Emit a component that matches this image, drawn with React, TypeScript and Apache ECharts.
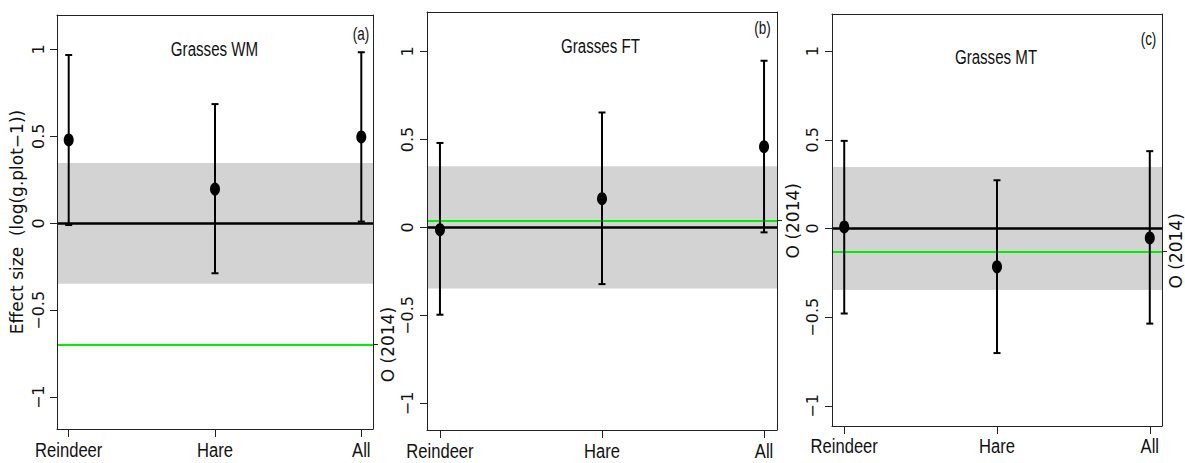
import React, { useEffect, useRef } from 'react';
import * as echarts from 'echarts';

// ---------- data ----------
const categories = ['Reindeer', 'Hare', 'All'];
const xPositions = [1, 2, 3];
const yTicks = [-1, -0.5, 0, 0.5, 1];
const panelTitles = ['Grasses WM', 'Grasses FT', 'Grasses MT'];
const panelLetters = ['(a)', '(b)', '(c)'];
const yAxisTitle = 'Effect size  (log(g.plot\u22121))';
const referenceLabel = 'O (2014)';

const estimateWM = [0.479, 0.197, 0.496];
const lowerWM = [-0.01, -0.287, 0.01];
const upperWM = [0.967, 0.685, 0.983];

const estimateFT = [-0.013, 0.163, 0.459];
const lowerFT = [-0.496, -0.322, -0.028];
const upperFT = [0.48, 0.653, 0.947];

const estimateMT = [0.009, -0.216, -0.053];
const lowerMT = [-0.479, -0.702, -0.536];
const upperMT = [0.494, 0.272, 0.436];

const referenceLevels = [-0.697, 0.038, -0.126];
const bandLimits = [-0.347, 0.347];

// ---------- layout ----------
const grids = [
  { left: 57, top: 15, width: 316, height: 414 },
  { left: 427, top: 12, width: 350, height: 418 },
  { left: 832, top: 14, width: 330, height: 412 },
];
const yRanges = [
  [-1.182, 1.197],
  [-1.151, 1.224],
  [-1.113, 1.209],
];
const xRange = [0.92, 3.08];
const titlePos = [
  [214.5, 49],
  [600.5, 46],
  [996, 57],
];
const letterPos = [
  [361, 33.5],
  [762.5, 27.5],
  [1148.5, 38.5],
];
const xLabelOffset = [21, 20.5, 20];
const leftLabelMargin = [10.5, 12, 12];
const rightLabelMargin = [6.5, 7, 5];

const baseFont = "'Liberation Sans', Arial, sans-serif";
const rotFont = "'DejaVu Sans', sans-serif";

const panels = [
  { est: estimateWM, lo: lowerWM, hi: upperWM },
  { est: estimateFT, lo: lowerFT, hi: upperFT },
  { est: estimateMT, lo: lowerMT, hi: upperMT },
];

const fmtY = (v: number) => (v < 0 ? '\u2212' + String(-v) : String(v));

function buildOption() {
  const xAxis: any[] = [];
  const yAxis: any[] = [];
  const series: any[] = [];
  const lineColor = '#222';

  panels.forEach((p, i) => {
    const [ymin, ymax] = yRanges[i];
    xAxis.push({
      type: 'value', gridIndex: i, position: 'bottom', min: xRange[0], max: xRange[1], z: 10,
      axisLine: { show: true, onZero: false, lineStyle: { color: lineColor, width: 1 } },
      axisTick: { show: true, customValues: xPositions, length: 8, lineStyle: { color: lineColor, width: 1 } },
      axisLabel: { show: false },
      splitLine: { show: false },
    });
    xAxis.push({
      type: 'value', gridIndex: i, position: 'top', min: xRange[0], max: xRange[1], z: 10,
      axisLine: { show: true, onZero: false, lineStyle: { color: lineColor, width: 1 } },
      axisTick: { show: false }, axisLabel: { show: false }, splitLine: { show: false },
    });
    yAxis.push({
      type: 'value', gridIndex: i, position: 'left', min: ymin, max: ymax, z: 10,
      axisLine: { show: true, onZero: false, lineStyle: { color: lineColor, width: 1 } },
      axisTick: { show: true, customValues: yTicks, length: 7, lineStyle: { color: lineColor, width: 1 } },
      axisLabel: {
        customValues: yTicks, rotate: 90, margin: leftLabelMargin[i], fontFamily: rotFont, fontSize: 16, color: '#111',
        formatter: fmtY,
      },
      splitLine: { show: false },
      name: i === 0 ? yAxisTitle : '',
      nameLocation: 'middle', nameRotate: 90, nameGap: 32,
      nameTextStyle: { fontFamily: rotFont, fontSize: 17, color: '#111' },
    });
    yAxis.push({
      type: 'value', gridIndex: i, position: 'right', min: ymin, max: ymax, z: 10,
      axisLine: { show: true, onZero: false, lineStyle: { color: lineColor, width: 1 } },
      axisTick: { show: true, customValues: [referenceLevels[i]], length: 5, lineStyle: { color: lineColor, width: 1 } },
      axisLabel: {
        customValues: [referenceLevels[i]], rotate: 90, margin: rightLabelMargin[i], fontFamily: rotFont, fontSize: 17,
        color: '#111', formatter: () => referenceLabel,
      },
      splitLine: { show: false },
    });

    const xi = i * 2;
    const yi = i * 2;
    series.push({
      type: 'line', xAxisIndex: xi, yAxisIndex: yi, data: [], silent: true, z: 1,
      markArea: {
        silent: true,
        itemStyle: { color: '#d3d3d3' },
        data: [[{ yAxis: bandLimits[0] }, { yAxis: bandLimits[1] }]],
      },
      markLine: {
        silent: true, symbol: 'none', label: { show: false },
        data: [
          { yAxis: referenceLevels[i], lineStyle: { color: '#00ee00', width: 2.2, type: 'solid' } },
          { yAxis: 0, lineStyle: { color: '#000', width: 2.5, type: 'solid' } },
        ],
      },
    });
    series.push({
      type: 'custom', xAxisIndex: xi, yAxisIndex: yi, z: 6, silent: true,
      encode: { x: 0, y: [1, 2] },
      data: xPositions.map((x, j) => [x, p.lo[j], p.hi[j]]),
      renderItem: (_params: any, api: any) => {
        const x = api.value(0);
        const pLo = api.coord([x, api.value(1)]);
        const pHi = api.coord([x, api.value(2)]);
        const cap = 3.5;
        const style = { stroke: '#000', lineWidth: 2 };
        return {
          type: 'group',
          children: [
            { type: 'line', shape: { x1: pLo[0], y1: pLo[1], x2: pHi[0], y2: pHi[1] }, style },
            { type: 'line', shape: { x1: pLo[0] - cap, y1: pLo[1], x2: pLo[0] + cap, y2: pLo[1] }, style },
            { type: 'line', shape: { x1: pHi[0] - cap, y1: pHi[1], x2: pHi[0] + cap, y2: pHi[1] }, style },
          ],
        };
      },
    });
    series.push({
      type: 'scatter', xAxisIndex: xi, yAxisIndex: yi, z: 7, silent: true,
      symbol: 'circle', symbolSize: [10, 13], itemStyle: { color: '#000', opacity: 1 },
      data: xPositions.map((x, j) => [x, p.est[j]]),
    });
  });

  return {
    animation: false,
    backgroundColor: '#fff',
    grid: grids.map((g) => ({ ...g, containLabel: false })),
    xAxis,
    yAxis,
    series,
  };
}

function buildGraphics(chart: echarts.ECharts) {
  const graphic: any[] = [];
  panels.forEach((_p, i) => {
    graphic.push({
      type: 'text', x: titlePos[i][0], y: titlePos[i][1], z: 20, scaleX: 0.72,
      style: { text: panelTitles[i], fontFamily: baseFont, fontSize: 21, fill: '#111', align: 'center', verticalAlign: 'middle' },
    });
    graphic.push({
      type: 'text', x: letterPos[i][0], y: letterPos[i][1], z: 20, scaleX: 0.75,
      style: { text: panelLetters[i], fontFamily: baseFont, fontSize: 18, fill: '#111', align: 'center', verticalAlign: 'middle' },
    });
    const yBottom = chart.convertToPixel({ yAxisIndex: 2 * i } as any, yRanges[i][0]) as unknown as number;
    xPositions.forEach((xv, j) => {
      const px = chart.convertToPixel({ xAxisIndex: 2 * i } as any, xv) as unknown as number;
      graphic.push({
        type: 'text', x: px, y: yBottom + xLabelOffset[i], z: 20, scaleX: 0.79,
        style: { text: categories[j], fontFamily: baseFont, fontSize: 21, fill: '#111', align: 'center', verticalAlign: 'middle' },
      });
    });
  });
  return graphic;
}

export default function App() {
  const ref = useRef<HTMLDivElement>(null);
  useEffect(() => {
    document.body.style.margin = '0';
    const chart = echarts.init(ref.current!, null, { renderer: 'svg' });
    chart.setOption(buildOption() as any);
    chart.setOption({ graphic: buildGraphics(chart) } as any);
    return () => chart.dispose();
  }, []);
  return <div ref={ref} style={{ width: 1185, height: 463 }} />;
}
